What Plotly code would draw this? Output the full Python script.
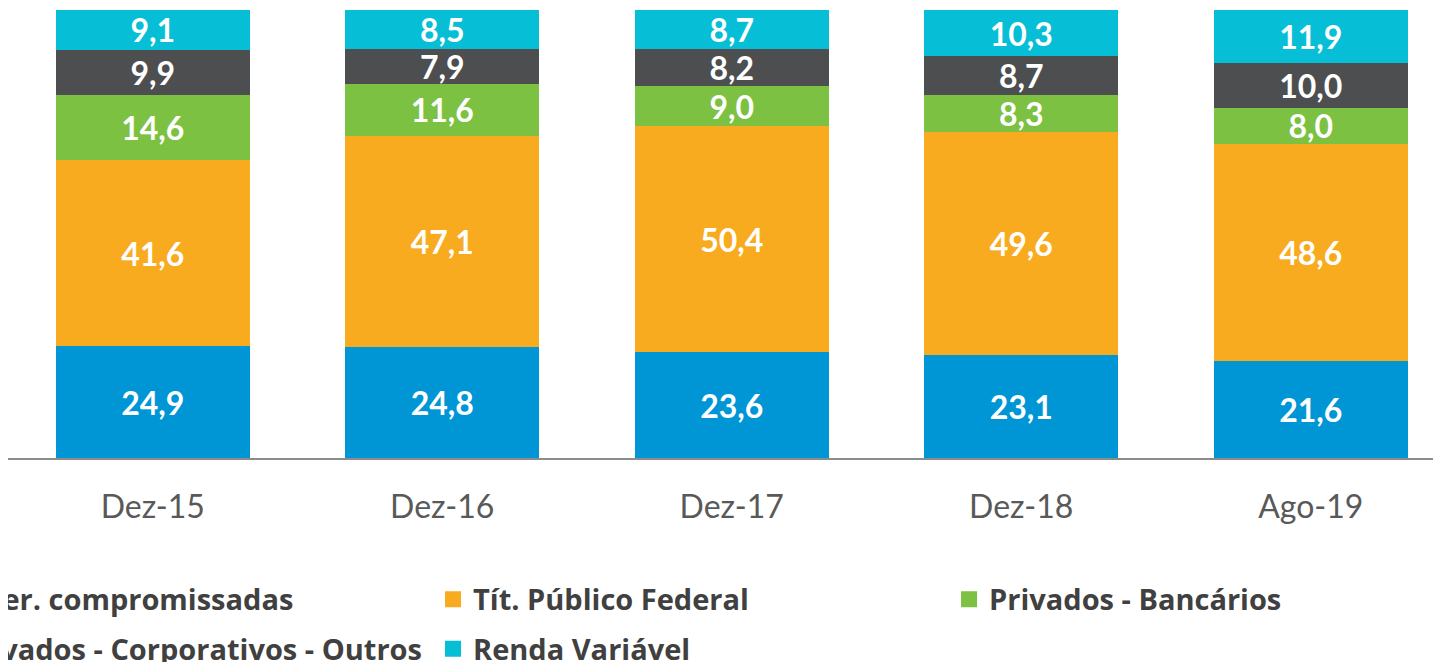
"""stacked 100% bars: composição da carteira por classe de ativo (%)"""

import plotly.graph_objects as go

periods = ["Dez-15", "Dez-16", "Dez-17", "Dez-18", "Ago-19"]

oper_compromissadas = [24.9, 24.8, 23.6, 23.1, 21.6]
tit_publico_federal = [41.6, 47.1, 50.4, 49.6, 48.6]
privados_bancarios = [14.6, 11.6, 9.0, 8.3, 8.0]
privados_corporativos = [9.9, 7.9, 8.2, 8.7, 10.0]
renda_variavel = [9.1, 8.5, 8.7, 10.3, 11.9]

# (name, values, colour, legend column) -- bottom to top of the stack
series = [
    ("Oper. compromissadas", oper_compromissadas, "#0096D6", "legend"),
    ("Tít. Público Federal", tit_publico_federal, "#F9AB20", "legend2"),
    ("Privados - Bancários", privados_bancarios, "#7DC142", "legend3"),
    ("Privados - Corporativos - Outros", privados_corporativos, "#4D4E50", "legend"),
    ("Renda Variável", renda_variavel, "#06BED6", "legend2"),
]

label_font = "Lato, 'Open Sans', sans-serif"
legend_font = "'Open Sans', Lato, sans-serif"

fig = go.Figure()
for name, values, color, legend in series:
    fig.add_bar(
        x=periods,
        y=values,
        name=name,
        legendgroup=name,
        showlegend=False,
        marker=dict(color=color, line=dict(width=0)),
        texttemplate="%{y:.1f}",
        textposition="inside",
        insidetextanchor="middle",
        constraintext="none",
        textfont=dict(family=label_font, size=32, color="white", weight="bold"),
    )
    # empty scatter only to get a bigger square swatch in the legend
    fig.add_scatter(
        x=[None],
        y=[None],
        mode="markers",
        name=name,
        legend=legend,
        legendgroup=name,
        marker=dict(symbol="square", size=18, color=color),
    )

# one vertical legend per column, so the columns line up like the original
legend_style = dict(
    orientation="v",
    traceorder="grouped",
    tracegroupgap=9,
    xanchor="left",
    yanchor="top",
    y=-0.2585,
    itemwidth=30,
    bgcolor="rgba(0,0,0,0)",
    font=dict(family=legend_font, size=29, color="#404040", weight="bold"),
)

# the page body adds an 8px margin, so the figure is 8px smaller than the window
fig.update_layout(
    width=1433,
    height=654,
    barmode="stack",
    bargap=0.33,
    separators=",.",
    plot_bgcolor="white",
    paper_bgcolor="white",
    margin=dict(l=0, r=0, t=2, b=204, autoexpand=False),
    legend=dict(x=-0.0607, **legend_style),
    legend2=dict(x=0.2966, **legend_style),
    legend3=dict(x=0.6567, **legend_style),
)

fig.update_xaxes(
    range=[-0.5, 4.45],
    showline=True,
    linecolor="#8C8C8C",
    linewidth=1.5,
    ticks="",
    ticklabelstandoff=20,
    tickfont=dict(family=label_font, size=32, color="#595959"),
)
fig.update_yaxes(range=[0, 100], visible=False, showgrid=False)

fig.write_html("out.html")
